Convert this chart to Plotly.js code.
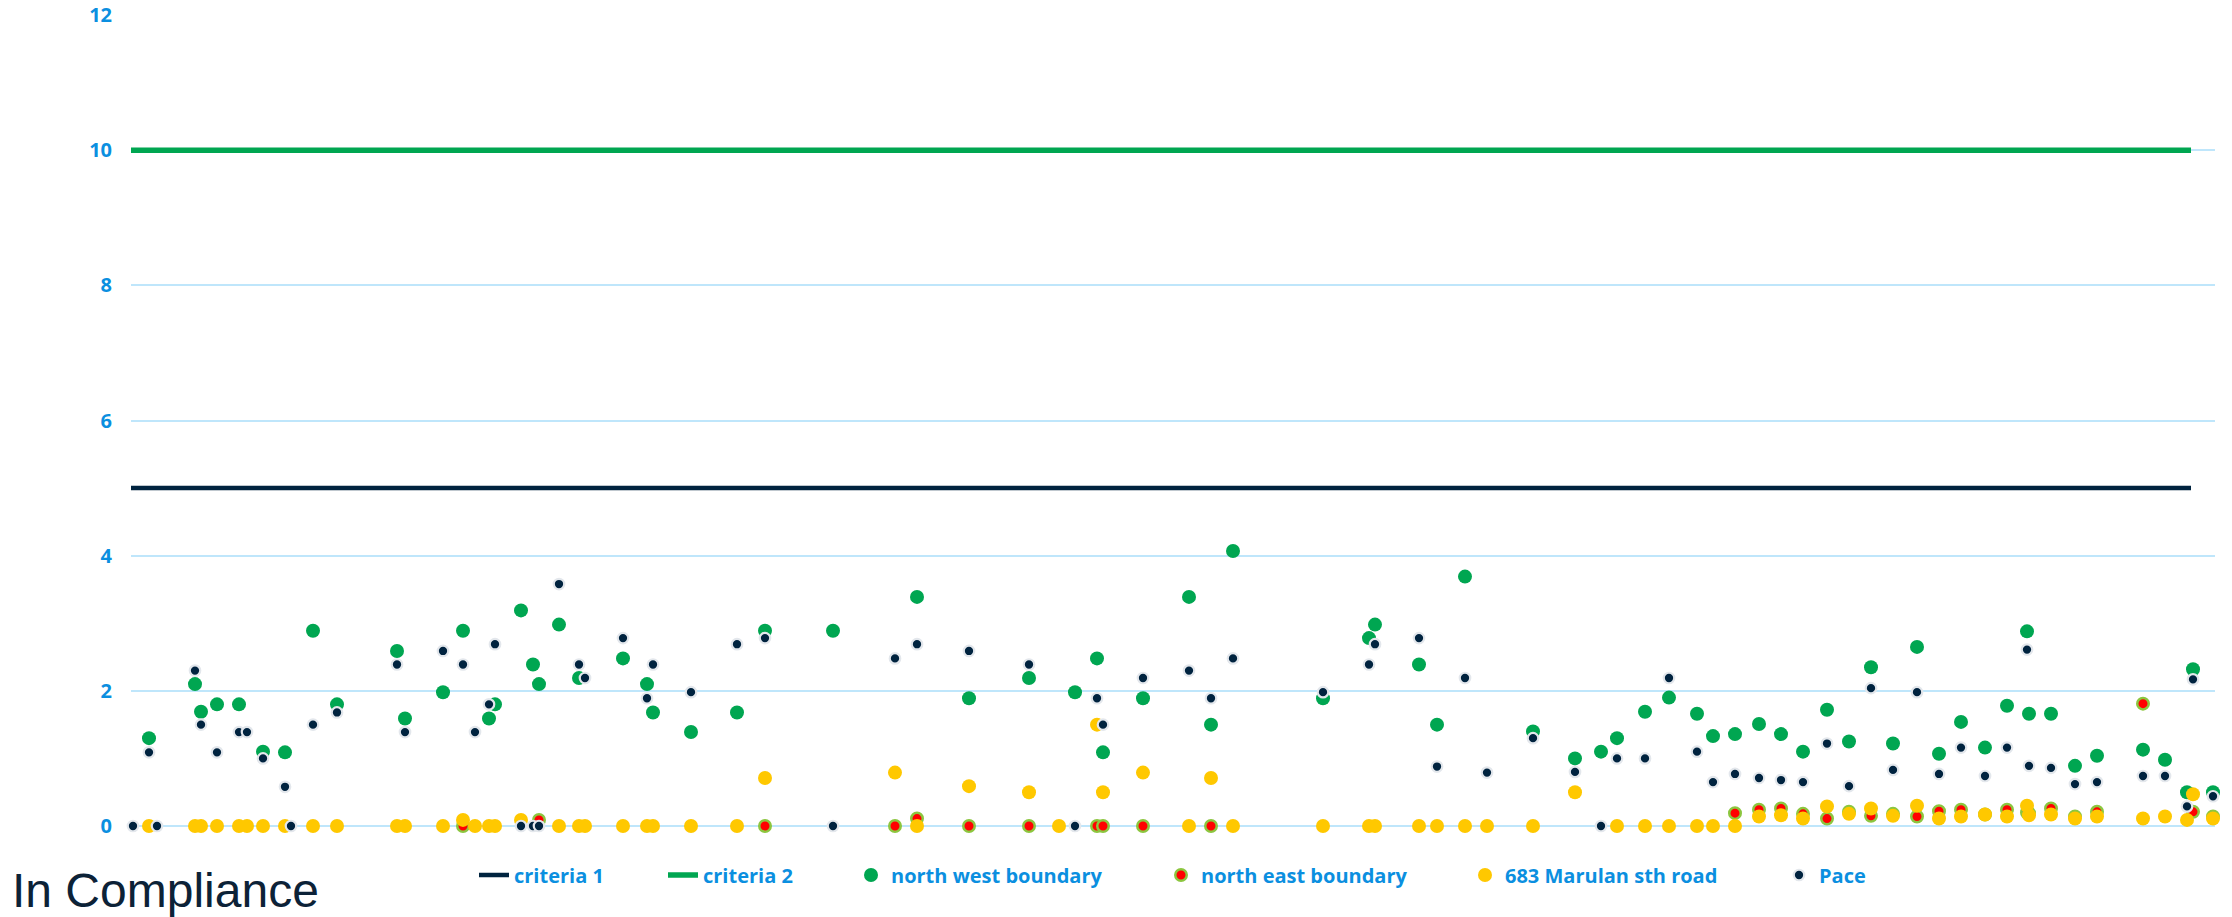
<!DOCTYPE html>
<html>
<head>
<meta charset="utf-8">
<script src="https://cdn.plot.ly/plotly-3.0.1.min.js"></script>
<style>
html,body{margin:0;padding:0;background:#ffffff;}
#chart{width:2232px;height:917px;}
</style>
</head>
<body>
<div id="chart"></div>
<script>
// ---- data (sample day index) ----
const days = [1, 9, 13, 32, 35, 43, 54, 58, 66, 77, 80, 91, 103, 133, 137, 156, 166, 172, 179, 182,
  195, 201, 204, 214, 224, 227, 246, 258, 261, 280, 303, 317, 351, 382, 393, 419, 449, 464, 472, 483,
  486, 506, 529, 540, 551, 596, 619, 622, 644, 653, 667, 678, 701, 722, 735, 743, 757, 769, 783, 791,
  802, 814, 825, 836, 848, 859, 870, 881, 893, 904, 915, 927, 938, 948, 949, 960, 972, 983, 1006, 1017,
  1028, 1031, 1041];

const northWest = [null, 1.3, null, 2.1, 1.69, 1.8, 1.8, null, 1.1, 1.09, null, 2.89, 1.8, 2.59, 1.59, 1.98, 2.89, null, 1.59, 1.8,
  3.19, 2.39, 2.1, 2.98, 2.19, null, 2.48, 2.1, 1.68, 1.39, 1.68, 2.89, 2.89, null, 3.39, 1.89, 2.19, null, 1.98, 2.48,
  1.09, 1.89, 3.39, 1.5, 4.07, 1.89, 2.78, 2.98, 2.39, 1.5, 3.69, null, 1.4, 1.0, 1.1, 1.3, 1.69, 1.9, 1.66, 1.33,
  1.36, 1.51, 1.36, 1.1, 1.72, 1.25, 2.35, 1.22, 2.65, 1.07, 1.54, 1.16, 1.78, 2.88, 1.66, 1.66, 0.89, 1.04, 1.13, 0.98,
  0.5, 2.32, 0.5];

const northEast = [null, null, null, null, null, null, null, null, null, null, null, null, null, null, null, null, 0, null, null, null,
  null, null, 0.09, null, null, null, null, null, null, null, null, 0, null, 0, 0.11, 0, 0, null, null, 0,
  0, 0, null, 0, null, null, null, null, null, null, null, null, null, null, null, null, null, null, null, null,
  0.19, 0.24, 0.26, 0.18, 0.11, 0.21, 0.15, 0.18, 0.14, 0.22, 0.24, 0.17, 0.24, 0.2, 0.19, 0.26, 0.14, 0.21, 1.81, null,
  null, 0.21, 0.14];

const marulan = [null, 0, null, 0, 0, 0, 0, 0, 0, 0, null, 0, 0, 0, 0, 0, 0.09, 0, 0, 0,
  0.09, null, null, 0, 0, 0, 0, 0, 0, 0, 0, 0.71, null, 0.79, 0, 0.59, 0.5, 0, null, 1.5,
  0.5, 0.79, 0, 0.71, 0, 0, 0, 0, 0, 0, 0, 0, 0, 0.5, null, 0, 0, 0, 0, 0,
  0, 0.14, 0.16, 0.11, 0.29, 0.18, 0.26, 0.15, 0.3, 0.11, 0.14, 0.17, 0.14, 0.3, 0.16, 0.17, 0.11, 0.14, 0.11, 0.14,
  0.09, 0.47, 0.11];

const pace = [0, 1.09, 0, 2.3, 1.5, 1.09, 1.39, 1.39, 1.0, 0.58, 0, 1.5, 1.68, 2.39, 1.39, 2.59, 2.39, 1.39, 1.8, 2.69,
  0, 0, 0, 3.58, 2.39, 2.19, 2.78, 1.89, 2.39, 1.98, 2.69, 2.78, 0, 2.48, 2.69, 2.59, 2.39, null, 0, 1.89,
  1.5, 2.19, 2.3, 1.89, 2.48, 1.98, 2.39, 2.69, 2.78, 0.88, 2.19, 0.79, 1.3, 0.8, 0, 1.0, 1.0, 2.19, 1.1, 0.65,
  0.77, 0.71, 0.68, 0.65, 1.22, 0.59, 2.04, 0.83, 1.98, 0.77, 1.16, 0.74, 1.16, 2.61, 0.89, 0.86, 0.62, 0.65, 0.74, 0.74,
  0.29, 2.17, 0.44];

const criteriaDays = [0, 1030];
const criteria1 = [5, 5];
const criteria2 = [10, 10];
const yTickVals = [0, 2, 4, 6, 8, 10, 12];
const yTickText = ['0', '2', '4', '6', '8', '10', '12'];
const names = ['criteria 1', 'criteria 2', 'north west boundary', 'north east boundary', '683 Marulan sth road', 'Pace'];
const noteText = 'In Compliance';

// ---- styling / layout ----
const W = 2232, H = 917, ML = 131, MR = 17, MT = 15, MB = 91;
const plotW = W - ML - MR, plotH = H - MT - MB;
const px2x = p => (p - ML) / plotW;
const py2y = p => (H - MB - p) / plotH;

const navy = '#00233f';
const green = '#00a651';
const yellow = '#ffc800';
const red = '#ff0000';
const blue = '#0b8fe0';
const grid = '#bfe6fb';

const legendFont = {family: 'Open Sans', size: 20, color: blue, weight: 700};
function legendAt(px) {
  return {x: px2x(px), y: py2y(875), xanchor: 'left', yanchor: 'middle', orientation: 'h',
    bgcolor: 'rgba(0,0,0,0)', borderwidth: 0, font: legendFont};
}

const traces = [
  {x: criteriaDays, y: criteria1, name: names[0], mode: 'lines', type: 'scatter', legend: 'legend',
   line: {color: navy, width: 4.5}, cliponaxis: false},
  {x: criteriaDays, y: criteria2, name: names[1], mode: 'lines', type: 'scatter', legend: 'legend2',
   line: {color: green, width: 5.5}, cliponaxis: false},
  {x: days, y: northWest, name: names[2], mode: 'markers', type: 'scatter', legend: 'legend3',
   marker: {color: green, size: 14, line: {width: 0}}, cliponaxis: false},
  {x: days, y: northEast, name: names[3], mode: 'markers', type: 'scatter', legend: 'legend4',
   marker: {color: red, size: 11.5, line: {width: 2.5, color: '#8cc63f'}}, cliponaxis: false},
  {x: days, y: marulan, name: names[4], mode: 'markers', type: 'scatter', legend: 'legend5',
   marker: {color: yellow, size: 14, line: {width: 0}}, cliponaxis: false},
  {x: days, y: pace, name: names[5], mode: 'markers', type: 'scatter', legend: 'legend6',
   marker: {color: navy, size: 10.5, line: {width: 2.2, color: '#e3e7ec'}}, cliponaxis: false}
];

const layout = {
  width: W, height: H,
  margin: {l: ML, r: MR, t: MT, b: MB, pad: 0},
  paper_bgcolor: '#ffffff', plot_bgcolor: '#ffffff',
  showlegend: true,
  hovermode: false,
  xaxis: {range: [0, 1042], visible: false, fixedrange: true},
  yaxis: {
    range: [0, 12], tickmode: 'array', tickvals: yTickVals, ticktext: yTickText,
    ticks: '', showline: false, showgrid: true, gridcolor: grid, gridwidth: 2,
    zeroline: true, zerolinecolor: grid, zerolinewidth: 2,
    tickfont: {family: 'Open Sans', size: 20, color: blue, weight: 700},
    ticklabelstandoff: 18, fixedrange: true
  },
  legend: legendAt(474),
  legend2: legendAt(663),
  legend3: legendAt(851),
  legend4: legendAt(1161),
  legend5: legendAt(1465),
  legend6: legendAt(1779),
  annotations: [{
    text: noteText, xref: 'paper', yref: 'paper', x: px2x(10), y: py2y(890),
    xanchor: 'left', yanchor: 'middle', showarrow: false,
    font: {family: 'Liberation Sans, Arial, sans-serif', size: 48, color: '#0c2237'}
  }]
};

Plotly.newPlot('chart', traces, layout, {staticPlot: true, displayModeBar: false});
</script>
</body>
</html>
